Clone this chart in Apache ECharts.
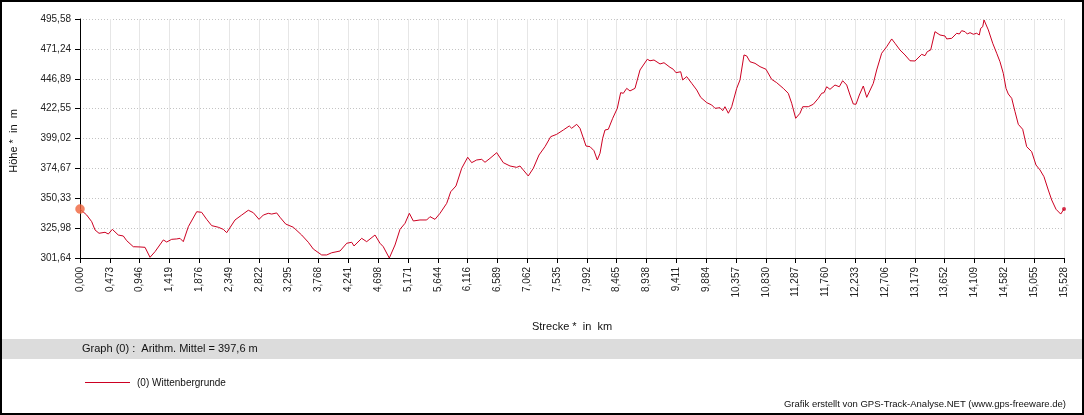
<!DOCTYPE html>
<html>
<head>
<meta charset="utf-8">
<script src="https://cdn.jsdelivr.net/npm/echarts/dist/echarts.min.js"></script>
<style>
html,body{margin:0;padding:0;background:#fff;}
#chart{width:1084px;height:415px;}
</style>
</head>
<body>
<div id="chart"></div>
<script>
const distanceKm = [0,0.106,0.185,0.237,0.300,0.395,0.447,0.510,0.604,0.683,0.737,0.841,0.947,1.026,1.105,1.184,1.315,1.368,1.447,1.526,1.578,1.630,1.709,1.842,1.920,1.999,2.078,2.182,2.261,2.315,2.394,2.446,2.552,2.656,2.735,2.825,2.893,2.971,3.025,3.104,3.156,3.246,3.366,3.498,3.603,3.682,3.814,3.893,3.972,4.103,4.209,4.288,4.324,4.445,4.524,4.655,4.734,4.786,4.881,4.971,5.050,5.129,5.197,5.260,5.365,5.471,5.523,5.602,5.681,5.787,5.850,5.933,6.023,6.118,6.181,6.260,6.339,6.391,6.470,6.576,6.680,6.786,6.891,6.943,7.074,7.153,7.243,7.338,7.428,7.522,7.627,7.721,7.759,7.838,7.890,7.985,8.048,8.111,8.163,8.206,8.248,8.285,8.337,8.406,8.479,8.532,8.574,8.627,8.679,8.758,8.837,8.952,8.995,9.058,9.153,9.216,9.310,9.362,9.405,9.479,9.511,9.574,9.653,9.732,9.795,9.890,9.969,10.021,10.100,10.142,10.178,10.231,10.284,10.363,10.415,10.478,10.521,10.573,10.652,10.731,10.825,10.915,10.994,11.098,11.177,11.231,11.294,11.362,11.405,11.493,11.572,11.651,11.704,11.741,11.783,11.835,11.914,11.982,12.035,12.099,12.151,12.203,12.246,12.298,12.361,12.415,12.440,12.519,12.572,12.651,12.730,12.809,12.861,12.940,13.019,13.098,13.177,13.282,13.334,13.371,13.424,13.492,13.571,13.650,13.677,13.756,13.835,13.876,13.913,13.966,14.002,14.045,14.097,14.150,14.191,14.213,14.245,14.266,14.334,14.403,14.466,14.518,14.570,14.613,14.649,14.703,14.755,14.807,14.876,14.939,15.018,15.086,15.149,15.212,15.280,15.334,15.402,15.476,15.507,15.528];
const elevationM = [341.4,336.5,331.1,324.4,321.7,322.5,321.1,324.9,320.3,319.5,315.7,310.8,310.6,310.3,302.2,306.8,316.3,314.6,316.8,317.1,317.6,314.9,327.0,339.2,338.7,333.0,327.9,326.6,324.9,322.2,328.4,332.5,336.5,340.4,338.4,333.0,336.5,337.9,337.3,338.2,334.7,329.2,326.6,320.3,314.4,308.9,304.1,304.1,305.9,307.3,313.6,314.4,311.4,317.6,314.9,320.3,313.6,310.8,301.6,312.2,324.9,329.8,337.9,331.7,332.5,332.5,335.2,333.0,337.9,346.0,355.4,360.1,374.4,383.4,379.0,381.2,381.7,379.3,382.5,387.1,379.0,376.3,375.2,376.3,368.2,374.4,385.2,392.0,400.1,402.0,405.5,408.8,406.9,410.1,406.9,392.5,392.0,388.7,381.2,386.6,398.8,405.5,406.1,415.0,423.1,435.8,435.3,439.3,437.2,439.3,454.2,462.9,461.7,462.3,459.1,460.1,456.4,454.8,452.0,452.8,446.1,448.8,443.4,438.0,432.0,427.7,425.8,423.1,423.6,421.2,424.4,419.1,424.4,439.3,446.1,466.4,465.6,460.9,459.6,456.9,454.8,446.6,443.9,439.3,435.3,427.2,415.0,419.1,424.4,424.4,426.4,431.2,435.3,435.8,440.6,438.5,442.0,440.6,445.5,442.0,433.9,426.6,426.4,433.9,441.2,432.0,430.4,443.4,454.2,467.8,473.1,479.4,475.9,470.4,466.4,461.7,461.5,466.9,465.8,469.1,470.4,485.3,482.6,481.8,479.4,479.9,484.0,483.4,486.1,485.3,483.4,484.5,483.2,484.0,482.6,488.0,489.3,494.8,486.7,475.9,467.8,460.9,451.5,439.3,434.7,431.2,420.4,410.1,406.1,392.0,387.9,377.1,373.1,367.6,356.8,348.7,341.2,337.3,338.4,341.4];
const xTickLabels = ['0,000','0,473','0,946','1,419','1,876','2,349','2,822','3,295','3,768','4,241','4,698','5,171','5,644','6,116','6,589','7,062','7,535','7,992','8,465','8,938','9,411','9,884','10,357','10,830','11,287','11,760','12,233','12,706','13,179','13,652','14,109','14,582','15,055','15,528'];
const yTickLabels = ['301,64','325,98','350,33','374,67','399,02','422,55','446,89','471,24','495,58'];
const seriesName = '(0) Wittenbergrunde';
const meanText = 'Graph (0) :  Arithm. Mittel = 397,6 m';

const num = s => parseFloat(s.replace(',', '.'));
const xMin = num(xTickLabels[0]), xMax = num(xTickLabels[xTickLabels.length - 1]);
const yMin = num(yTickLabels[0]), yMax = num(yTickLabels[yTickLabels.length - 1]);
const points = distanceKm.map((d, i) => [d, elevationM[i]]);
const FONT = 'Liberation Sans, Arial, sans-serif';

const chart = echarts.init(document.getElementById('chart'), null, {renderer: 'canvas'});
chart.setOption({
  animation: false,
  backgroundColor: '#ffffff',
  grid: {left: 80, right: 20, top: 19, bottom: 157, containLabel: false, outerBoundsMode: 'none'},
  xAxis: [
    {
      type: 'value', min: 0, max: xTickLabels.length - 1, interval: 1, position: 'bottom',
      axisLine: {show: true, onZero: false, lineStyle: {color: '#000', width: 1}},
      axisTick: {show: true, length: 5, lineStyle: {color: '#000'}},
      axisLabel: {rotate: 90, fontSize: 10, fontFamily: FONT, color: '#222', margin: 9,
        showMinLabel: true, showMaxLabel: true,
        formatter: v => xTickLabels[Math.round(v)] || ''},
      splitLine: {show: true, lineStyle: {color: '#e6e6e6', width: 1, type: 'solid'}}
    },
    {type: 'value', min: xMin, max: xMax, show: false}
  ],
  yAxis: [
    {
      type: 'value', min: 0, max: yTickLabels.length - 1, interval: 1, position: 'left',
      axisLine: {show: true, onZero: false, lineStyle: {color: '#000', width: 1}},
      axisTick: {show: true, length: 5, lineStyle: {color: '#000'}},
      axisLabel: {fontSize: 10, fontFamily: FONT, color: '#222', margin: 9,
        showMinLabel: true, showMaxLabel: true,
        formatter: v => yTickLabels[Math.round(v)] || ''},
      splitLine: {show: true, lineStyle: {color: '#c4c4c4', width: 1, type: [1, 2]}}
    },
    {type: 'value', min: yMin, max: yMax, show: false}
  ],
  series: [
    {
      name: seriesName, type: 'line', xAxisIndex: 1, yAxisIndex: 1,
      data: points, showSymbol: false, symbol: 'none',
      lineStyle: {color: '#cc0022', width: 1}, z: 3
    },
    {
      type: 'scatter', xAxisIndex: 1, yAxisIndex: 1,
      data: [points[0]], symbolSize: 9,
      itemStyle: {color: '#f0643c', borderColor: 'rgba(240,120,80,0.5)', borderWidth: 1}, z: 4
    },
    {
      type: 'scatter', xAxisIndex: 1, yAxisIndex: 1,
      data: [points[points.length - 1]], symbolSize: 4,
      itemStyle: {color: '#cc0022'}, z: 4
    }
  ],
  graphic: [
    {type: 'text', x: 14, y: 141, rotation: Math.PI / 2,
      style: {x: 0, y: 0, text: 'Höhe *  in  m', font: '11px ' + FONT, fill: '#111', textAlign: 'center', textVerticalAlign: 'middle'}},
    {type: 'text', style: {x: 572, y: 327, text: 'Strecke *  in  km', font: '11px ' + FONT, fill: '#111', textAlign: 'center', textVerticalAlign: 'middle'}},
    {type: 'rect', shape: {x: 1, y: 339, width: 1082, height: 20}, style: {fill: '#dcdcdc'}, z: -1},
    {type: 'text', style: {x: 82, y: 349, text: meanText, font: '11px ' + FONT, fill: '#111', textVerticalAlign: 'middle'}},
    {type: 'line', shape: {x1: 85, y1: 382.5, x2: 130, y2: 382.5}, style: {stroke: '#cc0022', lineWidth: 1}},
    {type: 'text', style: {x: 137, y: 383, text: seriesName, font: '10px ' + FONT, fill: '#111', textVerticalAlign: 'middle'}},
    {type: 'text', style: {x: 1066, y: 404, text: 'Grafik erstellt von GPS-Track-Analyse.NET (www.gps-freeware.de)', font: '9.5px ' + FONT, fill: '#111', textAlign: 'right', textVerticalAlign: 'middle'}},
    {type: 'rect', shape: {x: 1, y: 1, width: 1082, height: 413}, style: {fill: 'none', stroke: '#000', lineWidth: 2}, z: 10}
  ]
});
</script>
</body>
</html>
